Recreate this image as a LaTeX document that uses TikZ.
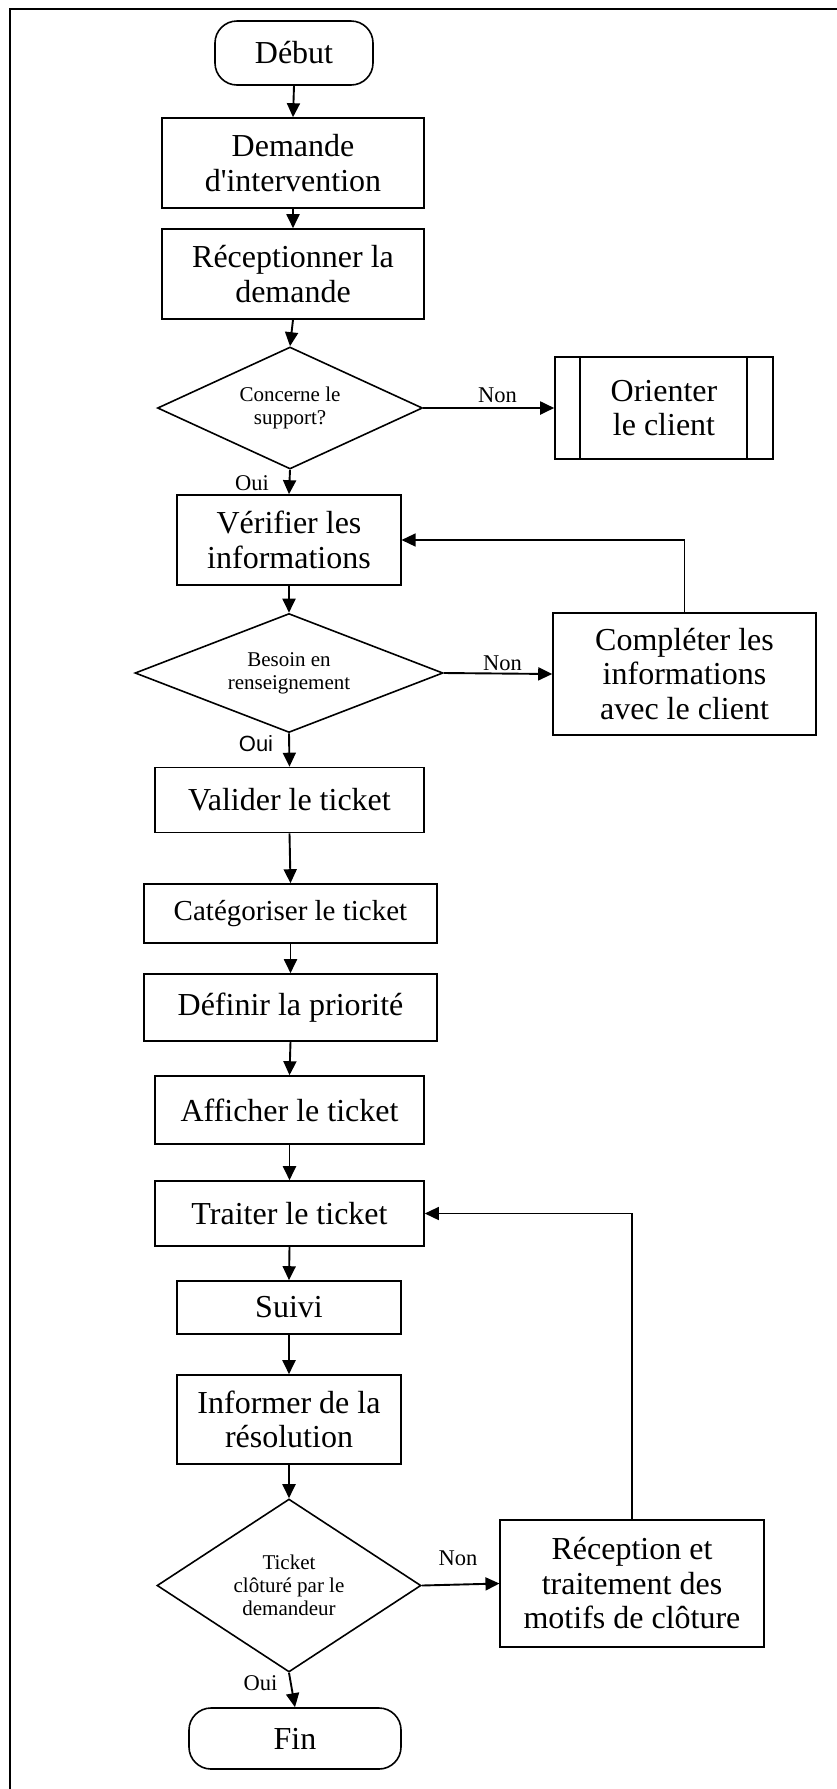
\documentclass[tikz,border=0pt]{standalone}
\usepackage{fontspec}
\setmainfont{Liberation Serif}[Ligatures=TeXOff]
\newfontfamily\labelsans{Liberation Sans}
\usetikzlibrary{shapes.geometric,arrows.meta,calc}

\begin{document}
\begin{tikzpicture}[x=1pt,y=-1pt,
  box/.style={draw,line width=1.6pt,rectangle,inner sep=0pt,align=center,
    font=\fontsize{32}{34.5}\selectfont},
  term/.style={box,rounded corners=22pt},
  dia/.style={draw,line width=1.6pt,diamond,inner sep=0pt},
  dtext/.style={align=center,inner sep=0pt,font=\fontsize{21}{23}\selectfont},
  lbl/.style={inner sep=0pt,anchor=base,font=\fontsize{22.5}{24}\selectfont},
  flow/.style={line width=1.9pt,-{Triangle[length=14pt,width=13pt]}},
  back/.style={line width=1.4pt,-{Triangle[length=14pt,width=13pt]}},
]
\useasboundingbox (0,0) rectangle (836,1789);

% page frame (top and left edges)
\draw[line width=2pt] (840,9) -- (9.5,9) -- (9.5,1795);

% main column
\node[term,minimum width=158pt,minimum height=64pt] (debut) at (294,53) {Début};
\node[box,minimum width=262pt,minimum height=90pt] (demande) at (293,163) {Demande\\d'intervention};
\node[box,minimum width=262pt,minimum height=90pt] (recep) at (293,274) {Réceptionner la\\demande};
\node[dia,minimum width=265pt,minimum height=122pt] (d1) at (290,408) {};
\node[dtext] (d1t) at (d1.center) {Concerne le\\support?};
\node[box,minimum width=218pt,minimum height=102pt] (orient) at (664,408) {Orienter\\le client};
\draw[line width=1.6pt] ([xshift=26pt]orient.north west) -- ([xshift=26pt]orient.south west);
\draw[line width=1.6pt] ([xshift=-27pt]orient.north east) -- ([xshift=-27pt]orient.south east);

\node[box,minimum width=223.5pt,minimum height=90pt] (verif) at (289,540) {Vérifier les\\informations};
\node[dia,minimum width=308pt,minimum height=119pt] (d2) at (289,673) {};
\node[dtext] (d2t) at (d2.center) {Besoin en\\renseignement};
\node[box,minimum width=263pt,minimum height=122pt] (compl) at (684.5,674) {Compléter les\\informations\\avec le client};

\node[box,minimum width=269pt,minimum height=65pt] (valider) at (289.5,800) {Valider le ticket};
\node[box,minimum width=293pt,minimum height=59pt,font=\fontsize{29}{32}\selectfont] (categ) at (290.5,913.5) {Catégoriser le ticket};
\node[box,minimum width=293pt,minimum height=67pt] (definir) at (290.5,1007.5) {Définir la priorité};
\node[box,minimum width=269pt,minimum height=68pt] (affich) at (289.5,1110) {Afficher le ticket};
\node[box,minimum width=269pt,minimum height=65pt] (traiter) at (289.5,1213.5) {Traiter le ticket};
\node[box,minimum width=223.5pt,minimum height=53pt] (suivi) at (289,1307.5) {Suivi};
\node[box,minimum width=223.5pt,minimum height=89pt] (informer) at (289,1419.5) {Informer de la\\résolution};
\node[dia,minimum width=264pt,minimum height=173pt] (d3) at (289,1585.5) {};
\node[dtext] (d3t) at (d3.center) {Ticket\\clôturé par le\\demandeur};
\node[box,minimum width=263.5pt,minimum height=127pt] (recept2) at (632,1583.5) {Réception et\\traitement des\\motifs de clôture};
\node[term,minimum width=212pt,minimum height=61pt] (fin) at (295,1738.5) {Fin};

% branch labels
\node[lbl] (non1) at (497.5,402) {Non};
\node[lbl] (oui1) at (252,490) {Oui};
\node[lbl] (non2) at (502.5,670) {Non};
\node[lbl,font=\labelsans\fontsize{22}{24}\selectfont] (oui2) at (256,751.5) {Oui};
\node[lbl] (non3) at (458,1565) {Non};
\node[lbl] (oui3) at (260.5,1690.5) {Oui};

% connectors
\draw[flow] (debut.south) -- (demande.north);
\draw[flow] (demande.south) -- (recep.north);
\draw[flow] (recep.south) -- (d1.north);
\draw[flow] (d1.east) -- (orient.west);
\draw[flow] (d1.south) -- (verif.north);
\draw[flow] (verif.south) -- (d2.north);
\draw[flow] (d2.east) -- (compl.west);
\draw[back] (compl.north) |- (verif.east);
\draw[flow] (d2.south) -- (valider.north);
\draw[flow] (valider.south) -- (categ.north);
\draw[flow] (categ.south) -- (definir.north);
\draw[flow] (definir.south) -- (affich.north);
\draw[flow] (affich.south) -- (traiter.north);
\draw[flow] (traiter.south) -- (suivi.north);
\draw[flow] (suivi.south) -- (informer.north);
\draw[flow] (informer.south) -- (d3.north);
\draw[flow] (d3.east) -- (recept2.west);
\draw[back] (recept2.north) |- (traiter.east);
\draw[flow] (d3.south) -- (fin.north);
\end{tikzpicture}
\end{document}
